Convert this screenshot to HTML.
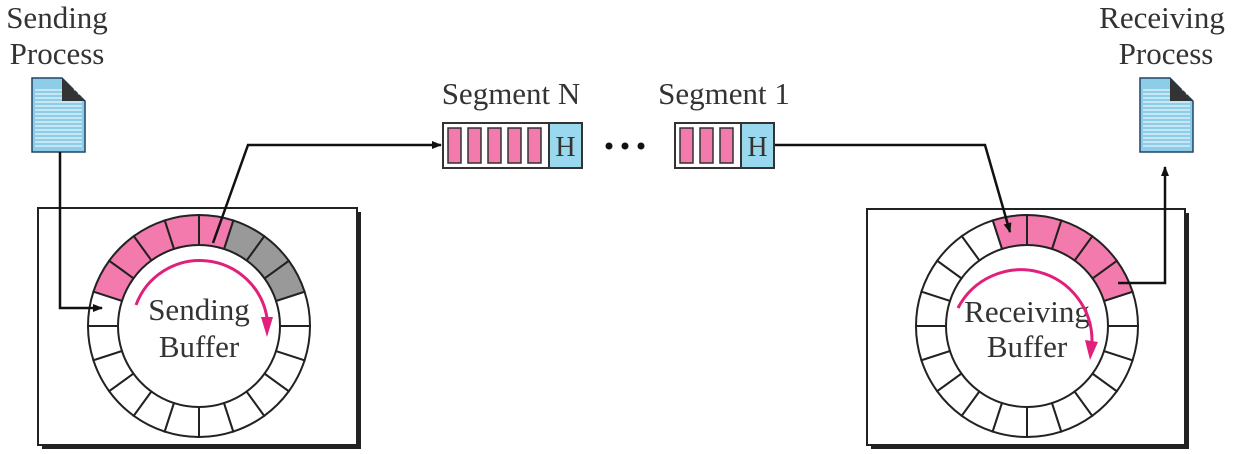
<!DOCTYPE html>
<html><head><meta charset="utf-8"><style>
body{margin:0;background:#fff}
svg{display:block}
text{font-family:"Liberation Serif",serif;fill:#333}
</style></head><body>
<svg id="s" width="1236" height="454" viewBox="0 0 1236 454">
<defs>
<marker id="ah" markerWidth="10" markerHeight="8" refX="9" refY="4" orient="auto" markerUnits="userSpaceOnUse"><path d="M0,0 L10,4 L0,8 Z" fill="#111"/></marker>
</defs>
<g><text x="57" y="28" font-size="31" text-anchor="middle">Sending</text><text x="57" y="64" font-size="31" text-anchor="middle">Process</text></g>
<g><text x="1162" y="28" font-size="31" text-anchor="middle">Receiving</text><text x="1166" y="64" font-size="31" text-anchor="middle">Process</text></g>
<text x="511" y="104" font-size="31" text-anchor="middle">Segment N</text>
<text x="724" y="104" font-size="31" text-anchor="middle">Segment 1</text>

<g id="docs"></g>

<rect x="42" y="212" width="319" height="237" fill="#222"/>
<rect x="38" y="208" width="319" height="237" fill="#fff" stroke="#222" stroke-width="2"/>
<rect x="871" y="213" width="318" height="236" fill="#222"/>
<rect x="867" y="209" width="318" height="236" fill="#fff" stroke="#222" stroke-width="2"/>

<g id="rings"></g>

<g><text x="199" y="320" font-size="31" text-anchor="middle">Sending</text><text x="199" y="357" font-size="31" text-anchor="middle">Buffer</text></g>
<g><text x="1027" y="322" font-size="31" text-anchor="middle">Receiving</text><text x="1027" y="357" font-size="31" text-anchor="middle">Buffer</text></g>

<g>
<path d="M136,305 A68,68 0 0 1 267,318" fill="none" stroke="#e0207a" stroke-width="3"/>
<path d="M261,317 L273,317 L267,337 Z" fill="#e0207a"/>
</g>
<g>
<path d="M958,308 A71,71 0 0 1 1092,342" fill="none" stroke="#e0207a" stroke-width="3"/>
<path d="M1085,340 L1098,342 L1090,360 Z" fill="#e0207a"/>
</g>

<path d="M60,152 L60,308 L102,308" fill="none" stroke="#111" stroke-width="2.5" marker-end="url(#ah)"/>
<path d="M213,243 L248,145 L441,145" fill="none" stroke="#111" stroke-width="2.5" marker-end="url(#ah)"/>
<path d="M775,145 L985,145 L1010,232" fill="none" stroke="#111" stroke-width="2.5" marker-end="url(#ah)"/>
<path d="M1118,283 L1165,283 L1165,167" fill="none" stroke="#111" stroke-width="2.5" marker-end="url(#ah)"/>

<g id="segs"></g>
<g><circle cx="609" cy="146" r="3.5" fill="#111"/><circle cx="625" cy="146" r="3.5" fill="#111"/><circle cx="641" cy="146" r="3.5" fill="#111"/></g>
</svg>
<script>
const NS='http://www.w3.org/2000/svg';
function mk(tag,attrs,parent){const e=document.createElementNS(NS,tag);for(const k in attrs)e.setAttribute(k,attrs[k]);parent.appendChild(e);return e;}
// documents
const docXs=[32,1140];
const docNames=['sending-document-icon','receiving-document-icon'];
docXs.forEach((x,i)=>{
  const g=mk('g',{},document.getElementById('docs'));
  
  
  mk('path',{d:`M${x},78 L${x+30},78 L${x+53},101 L${x+53},152 L${x},152 Z`,fill:'#8ecde8',stroke:'#246',"stroke-width":1.5},g);
  for(let y=90;y<150;y+=4)mk('line',{x1:x+3,y1:y,x2:x+50,y2:y,stroke:'#fff',"stroke-width":1},g);
  mk('path',{d:`M${x+30},78 L${x+53},101 L${x+30},101 Z`,fill:'#333'},g);
});
// rings
const N=20, RO=111, RI=81;
const rings=[{cx:199,cy:326,pink:[4,5,6,7,8],grey:[1,2,3],name:'sending-buffer-ring'},{cx:1027,cy:326,pink:[1,2,3,4,5],grey:[],name:'receiving-buffer-ring'}];
rings.forEach(r=>{
  const g=mk('g',{},document.getElementById('rings'));
  
  
  for(let i=0;i<N;i++){
    const a0=i*18*Math.PI/180,a1=(i+1)*18*Math.PI/180;
    const p=(a,R)=>[r.cx+R*Math.cos(a),r.cy-R*Math.sin(a)];
    const [x0,y0]=p(a0,RO),[x1,y1]=p(a1,RO),[x2,y2]=p(a1,RI),[x3,y3]=p(a0,RI);
    const fill=r.pink.includes(i)?'#f27aac':r.grey.includes(i)?'#999':'#fff';
    const c=mk('path',{d:`M${x0},${y0} A${RO},${RO} 0 0 0 ${x1},${y1} L${x2},${y2} A${RI},${RI} 0 0 1 ${x3},${y3} Z`,fill:fill,stroke:'#222',"stroke-width":2},g);
    
    
  }
});
// segments
const segs=[{x:443,n:5,name:'segment-n'},{x:675,n:3,name:'segment-1'}];
segs.forEach(s=>{
  const g=mk('g',{},document.getElementById('segs'));
  
  
  const w=s.n*20+6;
  mk('rect',{x:s.x,y:123,width:w,height:45,fill:'#fff',stroke:'#333',"stroke-width":2},g);
  for(let i=0;i<s.n;i++)mk('rect',{x:s.x+5+i*20,y:128,width:13,height:35,fill:'#f27aac',stroke:'#333',"stroke-width":1.5},g);
  mk('rect',{x:s.x+w,y:123,width:33,height:45,fill:'#9ad8ee',stroke:'#333',"stroke-width":2},g);
  const t=mk('text',{x:s.x+w+16.5,y:156,"font-size":28,"text-anchor":"middle",fill:'#1a4a6a'},g);
  t.textContent='H';
});
</script>
</body></html>
